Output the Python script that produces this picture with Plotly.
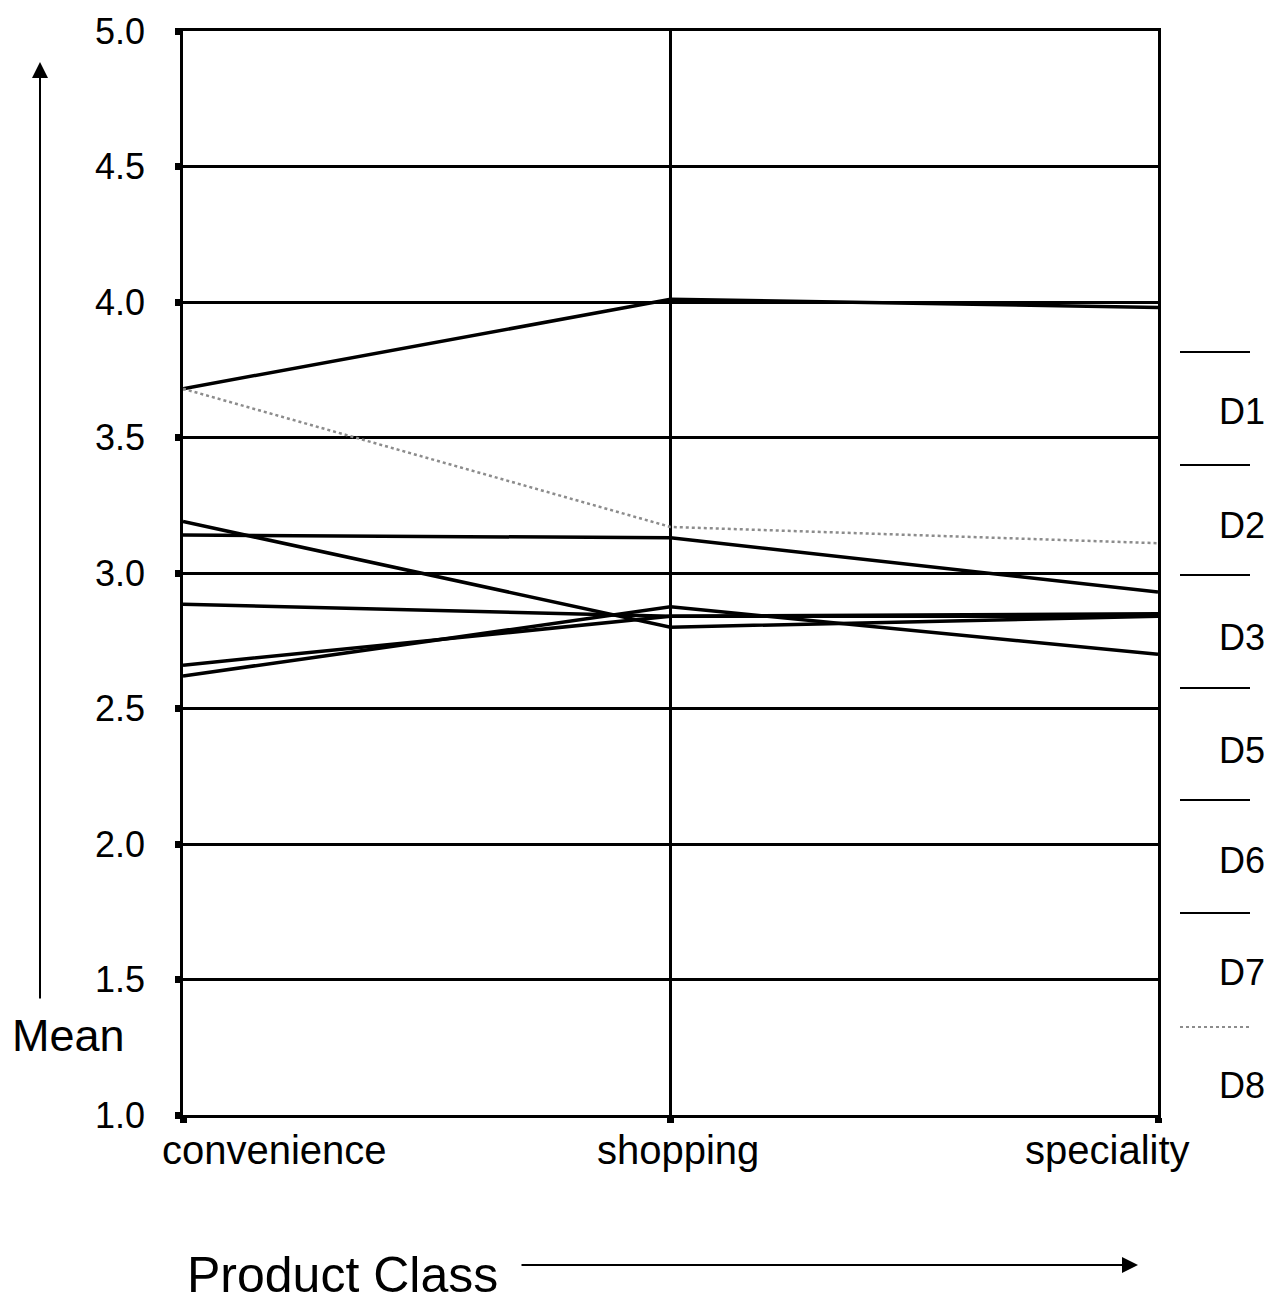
import plotly.graph_objects as go

categories = ["convenience", "shopping", "speciality"]
series_names = ["D1", "D2", "D3", "D5", "D6", "D7", "D8"]
d1 = [3.68, 4.01, 3.98]
d2 = [3.14, 3.13, 2.93]
d3 = [3.19, 2.80, 2.84]
d5 = [2.885, 2.84, 2.84]
d6 = [2.66, 2.84, 2.85]
d7 = [2.62, 2.875, 2.70]
d8 = [3.68, 3.17, 3.11]
y_ticks = [1.0, 1.5, 2.0, 2.5, 3.0, 3.5, 4.0, 4.5, 5.0]

series_values = [d1, d2, d3, d5, d6, d7, d8]
FONT = "Liberation Sans, Arial, sans-serif"
W, H = 1278, 1302
L, R, T, B = 183, 120, 31, 187
pw, ph = W - L - R, H - T - B

def px_x(px):
    return (px - L) / pw

def px_y(py):
    return (H - B - py) / ph

fig = go.Figure()
xs = list(range(len(categories)))
for name, vals in zip(series_names, series_values):
    gray = name == "D8"
    fig.add_trace(go.Scatter(
        x=xs, y=vals, mode="lines", name=name, showlegend=False,
        line=dict(color="#8c8c8c" if gray else "black", width=2.5 if gray else 3.5,
                  dash="dot" if gray else "solid"),
    ))

fig.update_layout(
    width=W, height=H, margin=dict(l=L, r=R, t=T, b=B),
    paper_bgcolor="white", plot_bgcolor="white",
    font=dict(family=FONT, color="black", size=36),
    xaxis=dict(range=[0, len(categories) - 1], tickvals=xs, ticktext=[""] * len(xs),
               showgrid=True, gridcolor="black", gridwidth=2.5,
               showline=True, linecolor="black", linewidth=2.5, mirror=True,
               ticks="outside", ticklen=5, tickwidth=7, tickcolor="black",
               zeroline=False),
    yaxis=dict(range=[y_ticks[0], y_ticks[-1]], tickvals=y_ticks,
               ticktext=[f"{v:.1f}" for v in y_ticks],
               showgrid=True, gridcolor="black", gridwidth=2.5,
               showline=True, linecolor="black", linewidth=2.5, mirror=True,
               ticks="outside", ticklen=5, tickwidth=7, tickcolor="black",
               ticklabelstandoff=23, tickfont=dict(size=36),
               zeroline=False),
)

# x tick labels
fig.add_annotation(x=0, y=px_y(1150), xref="x", yref="paper", text=categories[0],
                   showarrow=False, xanchor="left", yanchor="middle", xshift=-23,
                   font=dict(size=40))
fig.add_annotation(x=1, y=px_y(1150), xref="x", yref="paper", text=categories[1],
                   showarrow=False, xanchor="center", yanchor="middle", xshift=7,
                   font=dict(size=40))
fig.add_annotation(x=2, y=px_y(1150), xref="x", yref="paper", text=categories[2],
                   showarrow=False, xanchor="right", yanchor="middle", xshift=34,
                   font=dict(size=40))

# axis titles with arrows
fig.add_annotation(x=px_x(68), y=px_y(1035), xref="paper", yref="paper", text="Mean",
                   showarrow=False, xanchor="center", yanchor="middle",
                   font=dict(size=45))
fig.add_annotation(x=px_x(40), y=px_y(62), xref="paper", yref="paper", text="",
                   showarrow=True, ax=0, ay=1000 - 62, arrowhead=2, arrowsize=1.6,
                   arrowwidth=2, arrowcolor="black")
fig.add_annotation(x=px_x(342), y=px_y(1275), xref="paper", yref="paper",
                   text="Product Class", showarrow=False, xanchor="center",
                   yanchor="middle", font=dict(size=50))
fig.add_annotation(x=px_x(1138), y=px_y(1265), xref="paper", yref="paper", text="",
                   showarrow=True, ax=520 - 1138, ay=0, arrowhead=2, arrowsize=1.6,
                   arrowwidth=2, arrowcolor="black")

# custom legend: line sample above each label
sample_py = [352, 465, 575, 688, 800, 913, 1027]
label_py = [412, 525, 637, 750, 860, 972, 1085]
for name, sy, ly in zip(series_names, sample_py, label_py):
    gray = name == "D8"
    fig.add_shape(type="line", xref="paper", yref="paper",
                  x0=px_x(1180), x1=px_x(1250), y0=px_y(sy), y1=px_y(sy),
                  line=dict(color="#8c8c8c" if gray else "black", width=2,
                            dash="dot" if gray else "solid"))
    fig.add_annotation(x=px_x(1242), y=px_y(ly), xref="paper", yref="paper", text=name,
                       showarrow=False, xanchor="center", yanchor="middle",
                       font=dict(size=36))

fig.write_html("out.html", config={"displayModeBar": False},
               post_script="document.body.style.margin='0px';document.body.style.padding='0px';")
